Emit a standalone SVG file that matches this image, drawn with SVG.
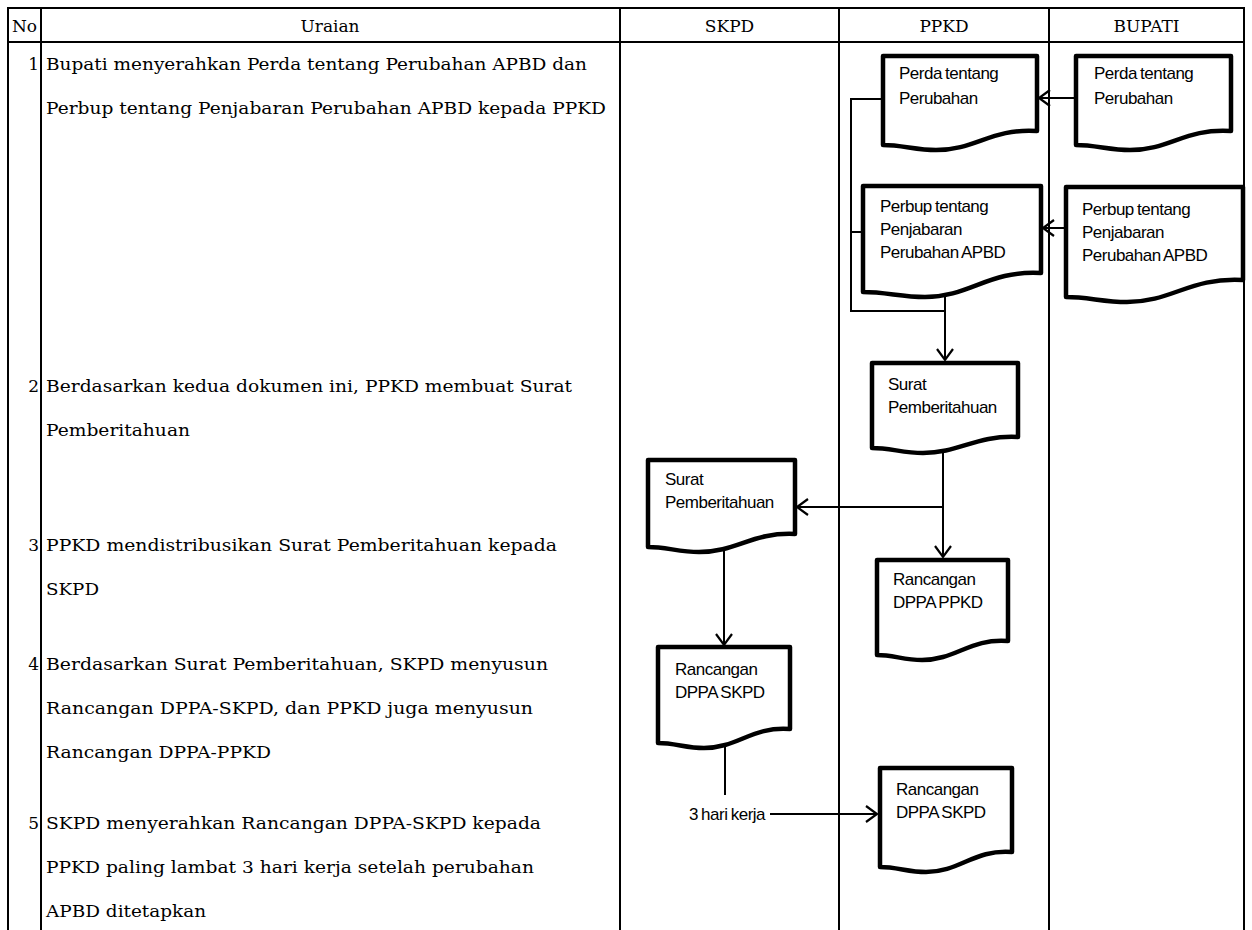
<svg xmlns="http://www.w3.org/2000/svg" width="1252" height="930" viewBox="0 0 1252 930">
<style>
.grid{stroke:#000;stroke-width:2;fill:none}
.hd{font-family:"DejaVu Serif","Liberation Serif",serif;font-size:17px;fill:#000;text-anchor:middle}
.tx{font-family:"DejaVu Serif","Liberation Serif",serif;font-size:17px;fill:#000}
.no{font-family:"DejaVu Serif","Liberation Serif",serif;font-size:17px;fill:#000;text-anchor:end}
.doc{fill:#fff;stroke:#000;stroke-width:4.5;stroke-linejoin:round}
.dt{font-family:"Liberation Sans",Arial,sans-serif;font-size:17px;fill:#000;letter-spacing:-0.5px;word-spacing:-1px}
.cn{fill:none;stroke:#000;stroke-width:2}
</style>
<defs>
<marker id="ah" markerUnits="userSpaceOnUse" markerWidth="24" markerHeight="24" viewBox="-14 -12 16 24" refX="0" refY="0" orient="auto">
<path d="M-11,-8 L0,0 L-11,8" fill="none" stroke="#000" stroke-width="2.2"/>
</marker>
</defs>
<rect width="1252" height="930" fill="#fff"/>
<g id="table">
<path class="grid" d="M8,930 V8 H1244 V930 M41,8 V930 M620,8 V930 M839,8 V930 M1049,8 V930 M8,42 H1244"/>
<text class="hd" x="24.5" y="32">No</text>
<text class="hd" x="330" y="32">Uraian</text>
<text class="hd" x="729.5" y="32">SKPD</text>
<text class="hd" x="944" y="32">PPKD</text>
<text class="hd" x="1146.5" y="32">BUPATI</text>
</g>
<g id="steps">
<text class="no" x="39" y="70">1</text>
<text class="tx" x="46" y="70" textLength="541" lengthAdjust="spacingAndGlyphs">Bupati menyerahkan Perda tentang Perubahan APBD dan</text>
<text class="tx" x="46" y="114" textLength="560" lengthAdjust="spacingAndGlyphs">Perbup tentang Penjabaran Perubahan APBD kepada PPKD</text>
<text class="no" x="39" y="392">2</text>
<text class="tx" x="46" y="392" textLength="526" lengthAdjust="spacingAndGlyphs">Berdasarkan kedua dokumen ini, PPKD membuat Surat</text>
<text class="tx" x="46" y="436" textLength="144" lengthAdjust="spacingAndGlyphs">Pemberitahuan</text>
<text class="no" x="39" y="551">3</text>
<text class="tx" x="46" y="551" textLength="511" lengthAdjust="spacingAndGlyphs">PPKD mendistribusikan Surat Pemberitahuan kepada</text>
<text class="tx" x="46" y="595" textLength="53" lengthAdjust="spacingAndGlyphs">SKPD</text>
<text class="no" x="39" y="670">4</text>
<text class="tx" x="46" y="670" textLength="502" lengthAdjust="spacingAndGlyphs">Berdasarkan Surat Pemberitahuan, SKPD menyusun</text>
<text class="tx" x="46" y="714" textLength="487" lengthAdjust="spacingAndGlyphs">Rancangan DPPA-SKPD, dan PPKD juga menyusun</text>
<text class="tx" x="46" y="758" textLength="225" lengthAdjust="spacingAndGlyphs">Rancangan DPPA-PPKD</text>
<text class="no" x="39" y="829">5</text>
<text class="tx" x="46" y="829" textLength="495" lengthAdjust="spacingAndGlyphs">SKPD menyerahkan Rancangan DPPA-SKPD kepada</text>
<text class="tx" x="46" y="873" textLength="488" lengthAdjust="spacingAndGlyphs">PPKD paling lambat 3 hari kerja setelah perubahan</text>
<text class="tx" x="46" y="917" textLength="160" lengthAdjust="spacingAndGlyphs">APBD ditetapkan</text>
</g>
<g id="connectors">
<path class="cn" d="M1076,98 H1039" marker-end="url(#ah)"/>
<path class="cn" d="M1066,228 H1043" marker-end="url(#ah)"/>
<path class="cn" d="M883,99 H851 V311 H945 M863,232 H851 M945,292 V360" marker-end="url(#ah)"/>
<path class="cn" d="M943,450 V557" marker-end="url(#ah)"/>
<path class="cn" d="M943,507 H797" marker-end="url(#ah)"/>
<path class="cn" d="M724,549 V645" marker-end="url(#ah)"/>
<path class="cn" d="M725,746 V795"/>
<path class="cn" d="M770,814 H877" marker-end="url(#ah)"/>
<text class="dt" x="727" y="820" text-anchor="middle">3 hari kerja</text>
</g>
<g id="bupati-perda">
<path class="doc" d="M1076,56 H1231 V131 C1185,128 1170,150 1130,150 C1110,150 1095,145 1076,145 Z"/>
<text class="dt" x="1094" y="79">Perda tentang</text>
<text class="dt" x="1094" y="104">Perubahan</text>
</g>
<g id="ppkd-perda">
<path class="doc" d="M883,56 H1037 V131 C991,128 976,150 936,150 C916,150 902,145 883,145 Z"/>
<text class="dt" x="899" y="79">Perda tentang</text>
<text class="dt" x="899" y="104">Perubahan</text>
</g>
<g id="bupati-perbup">
<path class="doc" d="M1066,187 H1243 V280 C1190,277 1172,302 1127,302 C1103,302 1088,297 1066,297 Z"/>
<text class="dt" x="1082" y="215">Perbup tentang</text>
<text class="dt" x="1082" y="238">Penjabaran</text>
<text class="dt" x="1082" y="261">Perubahan APBD</text>
</g>
<g id="ppkd-perbup">
<path class="doc" d="M863,186 H1041 V273 C988,270 970,297 925,297 C901,297 886,292 863,292 Z"/>
<text class="dt" x="880" y="212">Perbup tentang</text>
<text class="dt" x="880" y="235">Penjabaran</text>
<text class="dt" x="880" y="258">Perubahan APBD</text>
</g>
<g id="ppkd-surat">
<path class="doc" d="M872,363 H1018 V437 C975,435 960,453 923,453 C903,453 890,448 872,448 Z"/>
<text class="dt" x="888" y="390">Surat</text>
<text class="dt" x="888" y="413">Pemberitahuan</text>
</g>
<g id="skpd-surat">
<path class="doc" d="M648,460 H795 V534 C752,532 737,552 699,552 C679,552 666,547 648,547 Z"/>
<text class="dt" x="665" y="485">Surat</text>
<text class="dt" x="665" y="508">Pemberitahuan</text>
</g>
<g id="ppkd-dppa-ppkd">
<path class="doc" d="M877,560 H1008 V641 C970,638 956,660 922,660 C904,660 893,655 877,655 Z"/>
<text class="dt" x="893" y="585">Rancangan</text>
<text class="dt" x="893" y="608">DPPA PPKD</text>
</g>
<g id="skpd-dppa-skpd">
<path class="doc" d="M658,647 H790 V729 C752,726 738,748 704,748 C686,748 675,743 658,743 Z"/>
<text class="dt" x="675" y="675">Rancangan</text>
<text class="dt" x="675" y="698">DPPA SKPD</text>
</g>
<g id="ppkd-dppa-skpd">
<path class="doc" d="M880,768 H1012 V852 C974,849 960,872 926,872 C908,872 897,867 880,867 Z"/>
<text class="dt" x="896" y="795">Rancangan</text>
<text class="dt" x="896" y="818">DPPA SKPD</text>
</g>
</svg>
